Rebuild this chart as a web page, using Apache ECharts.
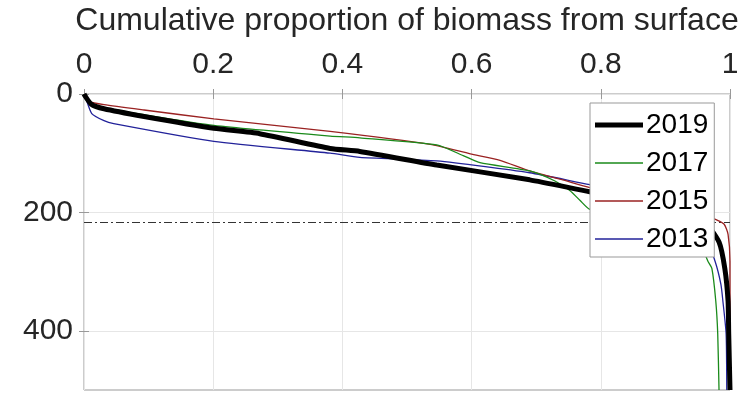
<!DOCTYPE html>
<html>
<head>
<meta charset="utf-8">
<script src="https://cdn.jsdelivr.net/npm/echarts@6/dist/echarts.min.js"></script>
<style>
html,body{margin:0;padding:0;background:#fff;}
#main{width:756px;height:394px;}
</style>
</head>
<body>
<div id="main"></div>
<script>
// cumulative proportion (x) against depth (y) for each survey year
var prop2019 = [0, 0.0015, 0.011, 0.031, 0.093, 0.201, 0.272, 0.381, 0.427, 0.546, 0.69, 0.783, 0.85, 0.92, 0.96, 0.983, 0.992, 0.997, 0.998, 1.0];
var depth2019 = [0, 3, 17, 25, 38, 58, 67, 92, 97, 120, 145, 165, 178, 195, 215, 250, 295, 350, 405, 500];

var prop2017 = [0, 0.0015, 0.011, 0.031, 0.093, 0.201, 0.381, 0.427, 0.546, 0.587, 0.613, 0.69, 0.729, 0.752, 0.768, 0.783, 0.85, 0.92, 0.955, 0.966, 0.972, 0.978, 0.981, 0.983];
var depth2017 = [0, 8, 17, 23, 35, 53, 71, 74, 86, 104, 116, 130, 147, 163, 180, 195, 215, 235, 258, 283, 295, 350, 405, 500];

var prop2015 = [0, 0.0015, 0.008, 0.031, 0.093, 0.201, 0.381, 0.536, 0.598, 0.644, 0.69, 0.741, 0.783, 0.85, 0.92, 0.96, 0.98, 0.991, 0.997, 1.0, 1.0];
var depth2015 = [0, 5, 13, 18, 27, 42, 63, 85, 101, 112, 130, 145, 158, 172, 190, 205, 213, 220, 237, 283, 500];

var prop2013 = [0, 0.0015, 0.012, 0.031, 0.046, 0.201, 0.381, 0.427, 0.546, 0.69, 0.783, 0.85, 0.92, 0.955, 0.977, 0.986, 0.989, 0.994, 0.995];
var depth2013 = [0, 3, 33, 45, 50, 80, 100, 107, 113, 133, 153, 165, 185, 220, 283, 322, 350, 405, 500];

var years = ['2019', '2017', '2015', '2013'];
var colors = ['#000000', '#1a8a1a', '#9a2222', '#22229a'];
var widths = [5, 1.3, 1.3, 1.3];
var xTicks = [0, 0.2, 0.4, 0.6, 0.8, 1];
var yTicks = [0, 200, 400];
var cutDepth = 216;

function pairs(xs, ys) {
  var out = [];
  for (var i = 0; i < xs.length; i++) out.push([xs[i], ys[i]]);
  return out;
}
var allData = [pairs(prop2019, depth2019), pairs(prop2017, depth2017), pairs(prop2015, depth2015), pairs(prop2013, depth2013)];

var fontFam = '"Liberation Sans", Arial, sans-serif';
var myChart = echarts.init(document.getElementById('main'));

var series = [];
var legendData = [];
for (var k = 0; k < years.length; k++) {
  series.push({
    name: years[k],
    type: 'line',
    data: allData[k],
    symbol: 'none',
    smooth: 0.2,
    z: 10 - k,
    lineStyle: { color: colors[k], width: widths[k] },
    itemStyle: { color: colors[k] }
  });
  // legend swatch: a flat bar as thick as the series line
  legendData.push({
    name: years[k],
    icon: 'path://M0,0H48V' + widths[k] + 'H0Z',
    itemStyle: { color: colors[k], borderWidth: 0 }
  });
}
// horizontal dash-dot reference line
series[0].markLine = {
  silent: true,
  symbol: 'none',
  label: { show: false },
  lineStyle: { color: '#333', width: 1.2, type: [8, 3, 2, 3] },
  data: [{ yAxis: cutDepth }]
};

var tickStyle = { show: true, inside: true, length: 5, lineStyle: { color: '#999' } };

var option = {
  animation: false,
  backgroundColor: '#fff',
  textStyle: { fontFamily: fontFam },
  grid: {
    left: 84, right: 26, top: 90, bottom: 4,
    show: true, borderColor: '#999', borderWidth: 1, backgroundColor: '#fff'
  },
  legend: {
    data: legendData,
    orient: 'vertical',
    left: 590, top: 103,
    width: 127,
    padding: [8, 6, 4, 5],
    itemWidth: 48, itemHeight: 14, itemGap: 10,
    symbolKeepAspect: true,
    backgroundColor: '#fff',
    borderColor: '#999', borderWidth: 1,
    z: 20,
    textStyle: { fontSize: 28, color: '#000', fontFamily: fontFam, padding: [0, 0, 0, -2] }
  },
  xAxis: [{
    type: 'value',
    position: 'top',
    min: 0, max: 1, interval: 0.2,
    name: 'Cumulative proportion of biomass from surface',
    nameLocation: 'middle',
    nameGap: 57,
    nameTextStyle: { fontSize: 32, color: '#262626' },
    axisLine: { show: false },
    axisTick: Object.assign({ customValues: xTicks }, tickStyle),
    axisLabel: {
      fontSize: 30, color: '#262626', margin: 14,
      customValues: xTicks,
      formatter: function (v) { return String(+v.toFixed(1)); }
    },
    splitLine: { show: true, lineStyle: { color: '#e6e6e6', width: 1 } }
  }, {
    type: 'value',
    position: 'bottom',
    min: 0, max: 1, interval: 0.2,
    axisLine: { show: false },
    axisTick: Object.assign({ customValues: xTicks }, tickStyle),
    axisLabel: { show: false },
    splitLine: { show: false }
  }],
  yAxis: [{
    type: 'value',
    inverse: true,
    min: 0, max: 500, interval: 200,
    axisLine: { show: false },
    axisTick: Object.assign({ customValues: yTicks }, tickStyle),
    axisLabel: {
      fontSize: 30, color: '#262626', margin: 11,
      customValues: yTicks
    },
    splitLine: { show: true, lineStyle: { color: '#e6e6e6', width: 1 } }
  }, {
    type: 'value',
    inverse: true,
    position: 'right',
    min: 0, max: 500, interval: 200,
    axisLine: { show: false },
    axisTick: Object.assign({ customValues: yTicks }, tickStyle),
    axisLabel: { show: false },
    splitLine: { show: false }
  }],
  series: series
};

myChart.setOption(option);
</script>
</body>
</html>
